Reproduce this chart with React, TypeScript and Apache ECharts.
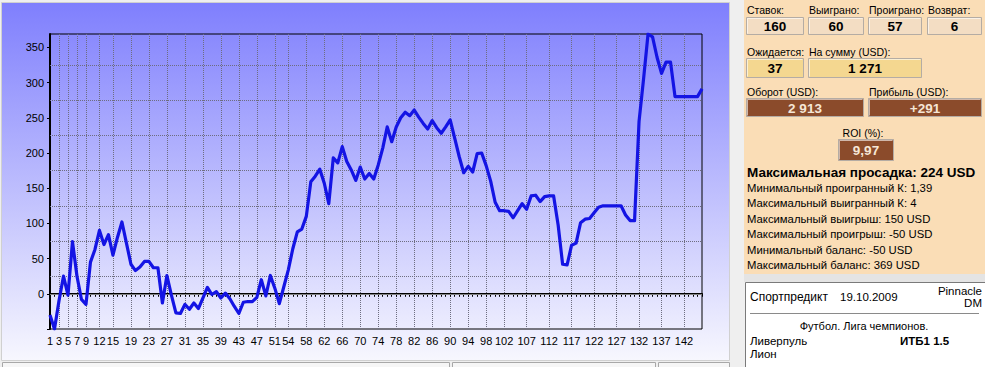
import React, { useEffect, useRef } from "react";
import * as echarts from "echarts";

// ---- data ----
const balance = [
  -30, -50, -10, 25, -2, 74, 25, -8, -15, 45,
  63, 90, 70, 84, 55, 80, 102, 72, 42, 33,
  38, 46, 46, 37, 37, -13, 26, -2, -27, -28,
  -15, -22, -13, -21, -6, 9, -1, 3, -6, 1,
  -7, -18, -28, -12, -11, -11, -5, 20, -3, 26,
  8, -14, 10, 34, 64, 88, 92, 110, 159, 167,
  177, 157, 128, 193, 186, 209, 188, 176, 161, 180,
  163, 171, 163, 183, 207, 237, 216, 237, 250, 258,
  253, 261, 251, 242, 234, 246, 236, 228, 237, 247,
  221, 195, 172, 181, 173, 199, 200, 182, 160, 130,
  118, 118, 117, 108, 118, 128, 120, 139, 140, 131,
  138, 139, 139, 98, 42, 41, 69, 72, 101, 106,
  107, 115, 123, 125, 125, 125, 125, 125, 112, 104,
  104, 245, 305, 369, 365, 336, 313, 329, 329, 280,
  280, 280, 280, 280, 280, 291,
];
const categories = balance.map((_, i) => String(i + 1));
const xLabelTicks = [1, 3, 5, 7, 9, 12, 15, 19, 23, 27, 31, 35, 39, 43, 47, 51, 54, 58, 62, 66, 70, 74, 78, 82, 86, 90, 94, 98, 102, 107, 112, 117, 122, 127, 132, 137, 142];
const yMin = -50;
const yMax = 369;
const yStep = 50;
const dottedLevels = [25, 75, 125, 175, 225, 275, 325];
const zeroLevel = 0;

const countLabels = ["Ставок:", "Выиграно:", "Проиграно:", "Возврат:"];
const countValues = ["160", "60", "57", "6"];
const pendingLabels = ["Ожидается:", "На сумму (USD):"];
const pendingValues = ["37", "1 271"];
const moneyLabels = ["Оборот (USD):", "Прибыль (USD):"];
const moneyValues = ["2 913", "+291"];
const roiLabel = "ROI (%):";
const roiValue = "9,97";
const drawdownText = "Максимальная просадка: 224 USD";
const statLines = [
  "Минимальный проигранный К: 1,39",
  "Максимальный выигранный К: 4",
  "Максимальный выигрыш: 150 USD",
  "Максимальный проигрыш: -50 USD",
  "Минимальный баланс: -50 USD",
  "Максимальный баланс: 369 USD",
];
const eventSource = "Спортпредикт";
const eventDate = "19.10.2009";
const bookmakerLines = ["Pinnacle", "DM"];
const eventLeague = "Футбол. Лига чемпионов.";
const eventTeams = ["Ливерпуль", "Лион"];
const eventBet = "ИТБ1 1.5";

// ---- helpers ----
const FONT = '"Liberation Sans", Arial, sans-serif';

function txt(x: number, y: number, text: string, o: any = {}) {
  const align = o.align || "left";
  return {
    type: "text",
    x,
    y,
    z: 20,
    silent: true,
    style: {
      text,
      fill: o.fill || "#000",
      fontSize: o.size || 11,
      fontFamily: FONT,
      fontWeight: o.bold ? "bold" : "normal",
      align,
      textAlign: align,
      verticalAlign: "middle",
      textVerticalAlign: "middle",
    },
  };
}

function box(x: number, y: number, w: number, h: number, fill: string, value: string, textFill = "#000") {
  return [
    {
      type: "rect",
      z: 15,
      silent: true,
      shape: { x: x + 0.5, y: y + 0.5, width: w, height: h },
      style: { fill, stroke: "#B4ACA4", lineWidth: 1 },
    },
    {
      type: "polyline",
      z: 16,
      silent: true,
      shape: { points: [[x + 1.5, y + h - 0.5], [x + 1.5, y + 1.5], [x + w - 0.5, y + 1.5]] },
      style: { stroke: "#FFFFFF", lineWidth: 1, fill: null, opacity: 0.6 },
    },
    txt(x + w / 2 + 0.5, y + h / 2 + 1, value, { align: "center", bold: true, size: 13.5, fill: textFill }),
  ];
}

function buildGraphic() {
  const g: any[] = [];
  g.push({ type: "rect", z: -20, silent: true, shape: { x: 0, y: 0, width: 985, height: 367 }, style: { fill: "#EFEFEF" } });
  g.push({
    type: "rect",
    z: -10,
    silent: true,
    shape: { x: 1.5, y: 2.5, width: 728, height: 358 },
    style: {
      fill: new echarts.graphic.LinearGradient(0, 0, 0, 1, [
        { offset: 0, color: "#7F7FFD" },
        { offset: 1, color: "#F7F7FE" },
      ]),
      stroke: "#D0D0D0",
      lineWidth: 1,
    },
  });
  [[2, 447], [452, 203], [658, 71]].forEach(([x, w]) => {
    g.push({ type: "rect", z: -9, silent: true, shape: { x: x + 0.5, y: 362.5, width: w, height: 10 }, style: { fill: "#F6F6F6", stroke: "#A8A8A8", lineWidth: 1 } });
  });
  g.push({ type: "rect", z: -9, silent: true, shape: { x: 744, y: 0, width: 241, height: 274 }, style: { fill: "#FADDB6" } });
  g.push({ type: "rect", z: -9, silent: true, shape: { x: 744, y: 274, width: 241, height: 8 }, style: { fill: "#E4E4E4" } });

  const r1x = [746, 808, 868, 927];
  const r1w = [57, 55, 53, 54];
  countLabels.forEach((l, i) => {
    g.push(txt(r1x[i] + 1, 10, l, { size: 10.5 }));
    box(r1x[i], 17, r1w[i], 17, "#F3DDC3", countValues[i]).forEach((e) => g.push(e));
  });
  const r2x = [746, 808];
  const r2w = [57, 113];
  pendingLabels.forEach((l, i) => {
    g.push(txt(r2x[i] + 1, 52, l, { size: 10.5 }));
    box(r2x[i], 58, r2w[i], 19, "#F4D790", pendingValues[i]).forEach((e) => g.push(e));
  });
  const r3x = [746, 868];
  const r3w = [117, 113];
  moneyLabels.forEach((l, i) => {
    g.push(txt(r3x[i] + 1, 92, l, { size: 10.5 }));
    box(r3x[i], 98, r3w[i], 18, "#8B4B2B", moneyValues[i], "#F6E6D6").forEach((e) => g.push(e));
  });
  g.push(txt(863, 133, roiLabel, { size: 10.5, align: "center" }));
  box(838, 139, 55, 21, "#8B4B2B", roiValue, "#F6E6D6").forEach((e) => g.push(e));
  g.push(txt(747, 172, drawdownText, { size: 13.5, bold: true }));
  statLines.forEach((s, i) => g.push(txt(747, 188 + i * 15.4, s, { size: 11.3 })));

  g.push({ type: "rect", z: -8, silent: true, shape: { x: 745.5, y: 282.5, width: 245, height: 90 }, style: { fill: "#FFFFFF", stroke: "#7A7A7A", lineWidth: 1 } });
  g.push(txt(750, 297, eventSource, { size: 12 }));
  g.push(txt(840, 297, eventDate, { size: 11.5 }));
  g.push(txt(982, 291, bookmakerLines[0], { size: 11.5, align: "right" }));
  g.push(txt(982, 303, bookmakerLines[1], { size: 11.5, align: "right" }));
  g.push({ type: "line", z: 10, silent: true, shape: { x1: 750, y1: 313.5, x2: 979, y2: 313.5 }, style: { stroke: "#8A8A8A", lineWidth: 1 } });
  g.push(txt(864, 326, eventLeague, { size: 11, align: "center" }));
  g.push(txt(750, 341, eventTeams[0], { size: 11.5 }));
  g.push(txt(900, 341, eventBet, { size: 11.5, bold: true }));
  g.push(txt(750, 354, eventTeams[1], { size: 11.5 }));
  return g;
}

const labelSet = new Set(xLabelTicks);

export default function App() {
  const ref = useRef<HTMLDivElement>(null);
  useEffect(() => {
    document.body.style.margin = "0";
    const chart = echarts.init(ref.current as HTMLDivElement, null, { renderer: "svg" });
    const option: any = {
      animation: false,
      textStyle: { fontFamily: FONT },
      grid: {
        left: 50,
        top: 34,
        width: 652,
        height: 295,
        show: true,
        borderColor: "#000",
        borderWidth: 1,
        backgroundColor: "transparent",
      },
      xAxis: {
        type: "category",
        data: categories,
        boundaryGap: false,
        axisLine: { lineStyle: { color: "#000", width: 2 } },
        axisTick: { show: true, interval: 0, length: 3, lineStyle: { color: "#000", width: 1 } },
        axisLabel: {
          interval: (idx: number) => labelSet.has(idx + 1),
          color: "#000",
          fontSize: 11,
          fontFamily: FONT,
          margin: 6,
        },
        splitLine: {
          show: true,
          interval: (idx: number) => labelSet.has(idx + 1),
          lineStyle: { color: "#6E6E80", type: "dotted", width: 1 },
        },
      },
      yAxis: {
        type: "value",
        min: yMin,
        max: yMax,
        interval: yStep,
        axisLine: { show: true, lineStyle: { color: "#000", width: 2 } },
        axisTick: { show: true, length: 3, lineStyle: { color: "#000" } },
        axisLabel: {
          color: "#000",
          fontSize: 11,
          fontFamily: FONT,
          margin: 6,
          showMaxLabel: false,
          formatter: (v: number) => (v >= 0 && v % yStep === 0 ? String(v) : ""),
        },
        splitLine: { show: false },
      },
      series: [
        {
          type: "line",
          data: balance,
          symbol: "none",
          z: 5,
          lineStyle: { color: "#1414E4", width: 3.2, join: "round" },
          markLine: {
            silent: true,
            z: 1,
            symbol: ["none", "none"],
            label: { show: false },
            data: [
              ...dottedLevels.map((v) => ({ yAxis: v, lineStyle: { type: "dotted", color: "#6E6E80", width: 1 } })),
              { yAxis: zeroLevel, lineStyle: { type: "solid", color: "#808080", width: 1 } },
            ],
          },
        },
      ],
      graphic: buildGraphic(),
    };
    chart.setOption(option);
    return () => chart.dispose();
  }, []);
  return <div ref={ref} style={{ width: 985, height: 367 }} />;
}
